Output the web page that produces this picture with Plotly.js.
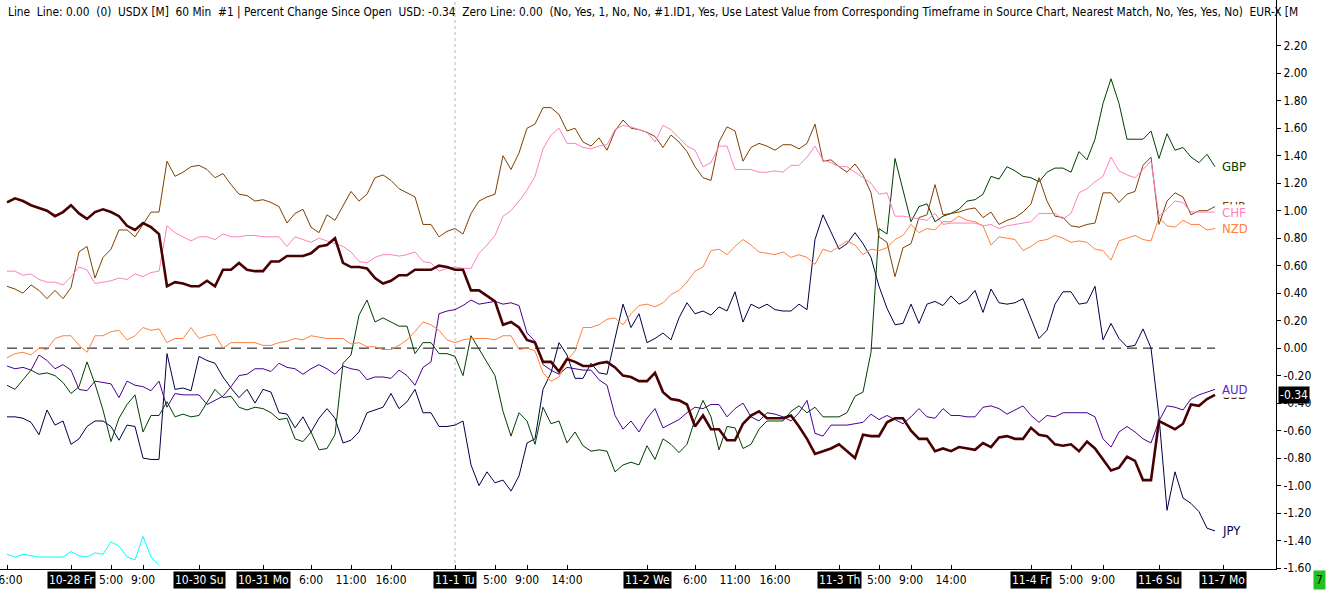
<!DOCTYPE html>
<html>
<head>
<meta charset="utf-8">
<script src="https://cdn.plot.ly/plotly-3.0.1.min.js"></script>
<style>
  html, body { margin: 0; padding: 0; background: #fff; }
  #chart { width: 1326px; height: 590px; }
</style>
</head>
<body>
<div id="chart"></div>
<script>
'use strict';

// hourly bars, 10-27 16:00 .. 11-6 23:00, percent change since open
const USD = [1.06, 1.09, 1.07, 1.04, 1.02, 1.00, 0.96, 0.99, 1.04, 0.98,
    0.94, 0.99, 1.01, 0.99, 0.96, 0.89, 0.86, 0.91, 0.88, 0.83,
    0.45, 0.48, 0.47, 0.45, 0.45, 0.49, 0.45, 0.57, 0.57, 0.62,
    0.57, 0.56, 0.56, 0.63, 0.63, 0.67, 0.67, 0.67, 0.69, 0.74,
    0.75, 0.80, 0.62, 0.59, 0.59, 0.58, 0.51, 0.47, 0.49, 0.53,
    0.53, 0.57, 0.57, 0.57, 0.60, 0.59, 0.57, 0.57, 0.42, 0.42,
    0.38, 0.34, 0.17, 0.19, 0.15, 0.06, 0.04, -0.10, -0.10, -0.17,
    -0.08, -0.10, -0.13, -0.13, -0.11, -0.10, -0.14, -0.20, -0.21, -0.24,
    -0.24, -0.18, -0.32, -0.37, -0.38, -0.41, -0.57, -0.49, -0.59, -0.59,
    -0.67, -0.67, -0.55, -0.49, -0.46, -0.51, -0.51, -0.51, -0.49, -0.57,
    -0.66, -0.77, -0.75, -0.73, -0.70, -0.75, -0.80, -0.63, -0.64, -0.64,
    -0.54, -0.51, -0.51, -0.60, -0.66, -0.66, -0.75, -0.73, -0.75, -0.72,
    -0.73, -0.74, -0.69, -0.72, -0.65, -0.64, -0.66, -0.66, -0.58, -0.63,
    -0.64, -0.70, -0.71, -0.70, -0.75, -0.68, -0.73, -0.81, -0.89, -0.87,
    -0.79, -0.82, -0.96, -0.96, -0.53, -0.56, -0.59, -0.55, -0.41, -0.42,
    -0.37, -0.34];

const EUR = [0.45, 0.43, 0.40, 0.46, 0.42, 0.36, 0.42, 0.36, 0.44, 0.70,
    0.74, 0.51, 0.66, 0.72, 0.86, 0.86, 0.81, 0.90, 0.99, 0.99,
    1.36, 1.25, 1.28, 1.32, 1.33, 1.30, 1.24, 1.27, 1.19, 1.12,
    1.11, 1.07, 1.08, 1.06, 1.03, 0.91, 0.98, 1.01, 0.88, 0.84,
    0.97, 0.93, 1.03, 1.14, 1.07, 1.12, 1.24, 1.26, 1.22, 1.16,
    1.13, 1.10, 0.90, 0.90, 0.81, 0.85, 0.87, 0.83, 0.98, 1.07,
    1.10, 1.12, 1.40, 1.30, 1.42, 1.60, 1.63, 1.75, 1.75, 1.70,
    1.58, 1.60, 1.50, 1.47, 1.53, 1.44, 1.58, 1.66, 1.60, 1.59,
    1.57, 1.54, 1.46, 1.55, 1.50, 1.43, 1.32, 1.24, 1.22, 1.50,
    1.61, 1.58, 1.36, 1.46, 1.49, 1.47, 1.44, 1.48, 1.48, 1.45,
    1.49, 1.63, 1.36, 1.37, 1.32, 1.28, 1.34, 1.26, 1.13, 0.81,
    0.77, 0.52, 0.73, 0.76, 0.95, 0.97, 1.19, 0.97, 0.98, 0.99,
    1.01, 1.02, 0.95, 0.99, 0.90, 0.93, 0.95, 0.99, 1.05, 1.24,
    1.07, 0.96, 0.95, 0.89, 0.88, 0.90, 0.91, 1.13, 1.13, 1.06,
    1.12, 1.14, 1.33, 1.39, 0.90, 1.07, 1.13, 1.10, 0.97, 1.00,
    1.00, 1.03];

const CHF = [0.56, 0.56, 0.53, 0.54, 0.50, 0.48, 0.48, 0.46, 0.52, 0.59,
    0.57, 0.47, 0.48, 0.49, 0.51, 0.50, 0.54, 0.52, 0.55, 0.56,
    0.89, 0.84, 0.81, 0.78, 0.81, 0.81, 0.79, 0.83, 0.81, 0.81,
    0.82, 0.82, 0.81, 0.81, 0.81, 0.74, 0.81, 0.79, 0.77, 0.80,
    0.78, 0.76, 0.74, 0.70, 0.63, 0.62, 0.66, 0.68, 0.68, 0.67,
    0.68, 0.70, 0.63, 0.62, 0.56, 0.58, 0.59, 0.58, 0.58, 0.69,
    0.75, 0.82, 0.96, 1.00, 1.07, 1.15, 1.25, 1.45, 1.55, 1.60,
    1.49, 1.49, 1.46, 1.45, 1.47, 1.48, 1.59, 1.62, 1.61, 1.59,
    1.57, 1.50, 1.62, 1.59, 1.53, 1.47, 1.44, 1.32, 1.35, 1.47,
    1.47, 1.30, 1.30, 1.30, 1.28, 1.28, 1.29, 1.28, 1.33, 1.33,
    1.39, 1.47, 1.37, 1.35, 1.32, 1.32, 1.28, 1.24, 1.20, 1.12,
    1.13, 0.96, 0.96, 0.95, 0.94, 0.93, 0.98, 0.90, 0.91, 0.91,
    0.91, 0.91, 0.89, 0.90, 0.87, 0.89, 0.90, 0.91, 0.92, 0.98,
    0.98, 0.98, 0.94, 0.98, 1.13, 1.16, 1.21, 1.25, 1.39, 1.29,
    1.26, 1.24, 1.30, 1.36, 0.96, 1.01, 1.07, 1.06, 0.99, 0.99,
    0.99, 0.99];

const NZD = [-0.07, -0.04, -0.03, -0.05, 0.00, -0.01, 0.07, 0.09, 0.09, 0.02,
    -0.03, 0.09, 0.09, 0.12, 0.13, 0.06, 0.09, 0.15, 0.13, 0.14,
    0.04, 0.07, 0.07, 0.15, 0.07, 0.09, 0.10, 0.00, 0.04, 0.04,
    0.04, 0.04, 0.02, 0.02, 0.04, 0.05, 0.07, 0.06, 0.09, 0.08,
    0.07, 0.07, 0.07, 0.03, 0.04, 0.01, 0.01, -0.01, -0.01, 0.02,
    0.06, 0.12, 0.19, 0.17, 0.13, 0.06, 0.04, 0.06, 0.07, 0.07,
    0.07, 0.06, 0.09, 0.09, -0.01, 0.00, -0.02, -0.18, -0.24, -0.21,
    -0.09, -0.02, 0.15, 0.15, 0.17, 0.21, 0.22, 0.17, 0.25, 0.31,
    0.32, 0.30, 0.33, 0.39, 0.42, 0.48, 0.56, 0.59, 0.71, 0.72,
    0.68, 0.74, 0.79, 0.75, 0.70, 0.69, 0.68, 0.70, 0.66, 0.68,
    0.66, 0.61, 0.72, 0.70, 0.74, 0.78, 0.75, 0.68, 0.72, 0.71,
    0.73, 0.79, 0.82, 0.90, 0.84, 0.87, 0.86, 0.92, 0.92, 0.96,
    0.93, 0.92, 0.89, 0.75, 0.81, 0.80, 0.79, 0.71, 0.74, 0.78,
    0.79, 0.82, 0.80, 0.77, 0.78, 0.77, 0.72, 0.71, 0.64, 0.78,
    0.80, 0.82, 0.79, 0.78, 0.95, 0.89, 0.88, 0.93, 0.90, 0.90,
    0.86, 0.87];

const GBP = [-0.27, -0.30, -0.23, -0.16, -0.19, -0.18, -0.20, -0.25, -0.33, -0.28,
    -0.10, -0.26, -0.45, -0.68, -0.51, -0.41, -0.34, -0.61, -0.49, -0.49,
    -0.39, -0.50, -0.48, -0.50, -0.49, -0.40, -0.30, -0.36, -0.35, -0.43,
    -0.45, -0.43, -0.44, -0.47, -0.52, -0.51, -0.66, -0.68, -0.61, -0.74,
    -0.73, -0.63, -0.11, -0.05, 0.24, 0.35, 0.19, 0.22, 0.19, 0.16,
    0.16, -0.04, 0.04, 0.04, -0.04, -0.04, -0.06, -0.20, 0.09, -0.01,
    -0.11, -0.20, -0.46, -0.64, -0.47, -0.53, -0.70, -0.43, -0.55, -0.53,
    -0.69, -0.61, -0.71, -0.75, -0.74, -0.75, -0.90, -0.85, -0.83, -0.85,
    -0.71, -0.81, -0.66, -0.70, -0.76, -0.70, -0.52, -0.38, -0.50, -0.74,
    -0.57, -0.58, -0.73, -0.70, -0.59, -0.53, -0.53, -0.53, -0.46, -0.42,
    -0.47, -0.43, -0.50, -0.50, -0.50, -0.47, -0.35, -0.32, -0.03, 0.87,
    0.83, 1.38, 1.15, 0.92, 1.03, 1.05, 0.92, 0.96, 0.98, 1.01,
    1.07, 1.08, 1.12, 1.25, 1.23, 1.32, 1.29, 1.25, 1.24, 1.21,
    1.28, 1.31, 1.31, 1.28, 1.43, 1.37, 1.52, 1.78, 1.96, 1.78,
    1.52, 1.52, 1.52, 1.58, 1.38, 1.56, 1.44, 1.46, 1.39, 1.35,
    1.41, 1.32];

const AUD = [-0.13, -0.15, -0.14, -0.16, -0.05, -0.09, -0.15, -0.12, -0.16, -0.30,
    -0.31, -0.24, -0.25, -0.26, -0.36, -0.24, -0.27, -0.28, -0.31, -0.24,
    -0.43, -0.33, -0.34, -0.34, -0.34, -0.41, -0.38, -0.35, -0.28, -0.20,
    -0.19, -0.15, -0.15, -0.17, -0.11, -0.14, -0.15, -0.19, -0.15, -0.12,
    -0.15, -0.19, -0.13, -0.15, -0.16, -0.23, -0.21, -0.21, -0.22, -0.16,
    -0.20, -0.27, -0.14, -0.10, 0.25, 0.27, 0.28, 0.31, 0.35, 0.32,
    0.33, 0.34, 0.32, 0.33, 0.31, 0.11, 0.05, -0.12, -0.16, -0.19,
    -0.14, -0.15, -0.16, -0.16, -0.23, -0.27, -0.49, -0.59, -0.53, -0.61,
    -0.51, -0.44, -0.58, -0.55, -0.52, -0.47, -0.43, -0.44, -0.41, -0.41,
    -0.50, -0.44, -0.40, -0.50, -0.53, -0.47, -0.48, -0.50, -0.53, -0.47,
    -0.38, -0.62, -0.64, -0.56, -0.56, -0.56, -0.55, -0.54, -0.48, -0.52,
    -0.49, -0.52, -0.55, -0.50, -0.44, -0.50, -0.51, -0.44, -0.49, -0.49,
    -0.50, -0.50, -0.43, -0.42, -0.44, -0.48, -0.45, -0.42, -0.49, -0.54,
    -0.49, -0.50, -0.47, -0.47, -0.47, -0.47, -0.50, -0.66, -0.72, -0.61,
    -0.57, -0.61, -0.66, -0.69, -0.53, -0.42, -0.43, -0.45, -0.37, -0.34,
    -0.32, -0.30];

const JPY = [-0.50, -0.50, -0.51, -0.54, -0.63, -0.45, -0.56, -0.53, -0.70, -0.66,
    -0.57, -0.53, -0.53, -0.57, -0.67, -0.56, -0.57, -0.80, -0.81, -0.81,
    -0.04, -0.30, -0.29, -0.31, -0.06, -0.09, -0.11, -0.21, -0.29, -0.36,
    -0.30, -0.40, -0.30, -0.32, -0.47, -0.48, -0.58, -0.50, -0.61, -0.51,
    -0.44, -0.51, -0.69, -0.67, -0.61, -0.47, -0.45, -0.43, -0.33, -0.44,
    -0.39, -0.30, -0.47, -0.47, -0.57, -0.57, -0.56, -0.53, -0.85, -1.00,
    -0.90, -0.98, -0.96, -1.04, -0.93, -0.69, -0.66, -0.30, -0.18, 0.04,
    -0.05, -0.22, -0.22, -0.11, -0.18, -0.19, 0.07, 0.32, 0.15, 0.25,
    0.04, 0.07, 0.11, 0.06, 0.22, 0.33, 0.25, 0.27, 0.24, 0.30,
    0.27, 0.41, 0.19, 0.32, 0.29, 0.32, 0.28, 0.27, 0.27, 0.32,
    0.28, 0.79, 0.97, 0.84, 0.72, 0.76, 0.84, 0.76, 0.66, 0.45,
    0.29, 0.17, 0.18, 0.32, 0.18, 0.32, 0.34, 0.31, 0.38, 0.32,
    0.35, 0.42, 0.26, 0.43, 0.33, 0.32, 0.33, 0.36, 0.22, 0.07,
    0.13, 0.32, 0.41, 0.41, 0.32, 0.33, 0.45, 0.06, 0.18, 0.07,
    0.01, 0.02, 0.14, 0.00, -0.50, -1.18, -0.90, -1.09, -1.13, -1.19,
    -1.31, -1.33];

// short series that stops early (no label on the chart)
const CYAN = [-1.50, -1.52, -1.50, -1.51, -1.52, -1.52, -1.52, -1.52, -1.48, -1.51,
    -1.52, -1.49, -1.50, -1.41, -1.44, -1.52, -1.54, -1.37, -1.52, -1.58];

const ZERO_LEVEL = 0;

// time axis
const tickBars = [0, 8, 13, 17, 24, 32, 38, 43, 48, 56, 61, 65, 70,
    80, 86, 91, 96, 104, 109, 113, 118, 128, 133, 137, 144, 152];
const tickLabels = ['16:00', '10-28 Fr', '5:00', '9:00', '10-30 Su', '10-31 Mo',
    '6:00', '11:00', '16:00', '11-1 Tu', '5:00', '9:00', '14:00',
    '11-2 We', '6:00', '11:00', '16:00', '11-3 Th', '5:00', '9:00', '14:00',
    '11-4 Fr', '5:00', '9:00', '11-6 Su', '11-7 Mo'];

const yTicks = [2.2, 2.0, 1.8, 1.6, 1.4, 1.2, 1.0, 0.8, 0.6, 0.4, 0.2, 0.0,
    -0.2, -0.4, -0.6, -0.8, -1.0, -1.2, -1.4, -1.6];

const headerText = 'Line  Line: 0.00  (0)  USDX [M]  60 Min  #1 | Percent Change Since Open  ' +
    'USD: -0.34  Zero Line: 0.00  (No, Yes, 1, No, No, #1.ID1, Yes, Use Latest Value from ' +
    'Corresponding Timeframe in Source Chart, Nearest Match, No, Yes, Yes, No)  EUR-X [M';

const FONT = '"Liberation Sans Narrow", "Arial Narrow", "DejaVu Sans Condensed", sans-serif';

const series = [
    {name: '', values: CYAN, color: '#00ffff', width: 1},
    {name: 'JPY', values: JPY, color: '#000048', width: 1},
    {name: 'AUD', values: AUD, color: '#4a0090', width: 1, labelColor: '#5a28c8'},
    {name: 'GBP', values: GBP, color: '#004000', width: 1},
    {name: 'NZD', values: NZD, color: '#ff8040', width: 1},
    {name: 'EUR', values: EUR, color: '#804000', width: 1},
    {name: 'CHF', values: CHF, color: '#ff80c0', width: 1},
    {name: 'USD', values: USD, color: '#480000', width: 2.6}
];

const bars = USD.map((v, i) => i);

const traces = [{
    type: 'scatter', mode: 'lines',
    x: bars, y: bars.map(() => ZERO_LEVEL),
    line: {color: '#000000', width: 1, dash: '10px,6px'},
    hoverinfo: 'skip'
}];
series.forEach(s => {
    traces.push({
        type: 'scatter', mode: 'lines', name: s.name,
        x: s.values.map((v, i) => bars[i]), y: s.values,
        line: {color: s.color, width: s.width},
        hoverinfo: 'skip'
    });
});

const annotations = [];

// date labels drawn as black boxes under the axis
tickLabels.forEach((t, i) => {
    if (t.indexOf('-') > 0) {
        annotations.push({
            x: tickBars[i], xref: 'x', y: 0, yref: 'paper',
            yanchor: 'top', yshift: -2, showarrow: false,
            text: t, bgcolor: '#000000', borderpad: 1,
            font: {family: FONT, size: 12, color: '#ffffff'}
        });
    }
});

// series name at the last value; later ones cover earlier ones
['GBP', 'NZD', 'EUR', 'CHF', 'JPY', 'USD', 'AUD'].forEach(name => {
    const s = series.find(d => d.name === name);
    const last = s.values.length - 1;
    annotations.push({
        x: bars[last], xref: 'x', y: s.values[last], yref: 'y',
        xanchor: 'left', xshift: 6, showarrow: false,
        text: name, bgcolor: '#ffffff', borderpad: 0,
        font: {family: FONT, size: 13, color: s.labelColor || s.color}
    });
});

// current USD value on the price axis
annotations.push({
    x: 1, xref: 'paper', y: USD[USD.length - 1], yref: 'y',
    xanchor: 'left', xshift: 2, showarrow: false,
    text: USD[USD.length - 1].toFixed(2), bgcolor: '#000000', borderpad: 1,
    font: {family: FONT, size: 12, color: '#ffffff'}
});

annotations.push({
    x: 0, xref: 'paper', y: 1, yref: 'paper',
    xanchor: 'left', yanchor: 'top', xshift: 6, yshift: -3, showarrow: false,
    text: headerText.replace(/ {2}/g, ' &nbsp;'),
    font: {family: FONT, size: 11.8, color: '#000000'}
});

annotations.push({
    x: 1326 / 1276, xref: 'paper', y: -21 / 569, yref: 'paper',
    xanchor: 'right', yanchor: 'bottom', showarrow: false,
    text: '7', bgcolor: '#22c022', borderpad: 2,
    font: {family: FONT, size: 12, color: '#000000'}
});

const layout = {
    width: 1326, height: 590,
    margin: {l: 0, r: 50, t: 0, b: 21, pad: 0},
    paper_bgcolor: '#ffffff', plot_bgcolor: '#ffffff',
    showlegend: false,
    xaxis: {
        range: [-0.875, 158.625],
        showgrid: false, zeroline: false,
        showline: true, linecolor: '#000000', linewidth: 1,
        ticks: 'inside', ticklen: 4, tickcolor: '#000000',
        ticklabeloverflow: 'allow',
        tickvals: tickBars,
        ticktext: tickLabels.map(t => (t.indexOf('-') > 0 ? '' : t)),
        tickfont: {family: FONT, size: 12, color: '#000000'}
    },
    yaxis: {
        side: 'right',
        range: [-1.607, 2.533],
        showgrid: false, zeroline: false,
        showline: true, mirror: true, linecolor: '#000000', linewidth: 1,
        ticks: 'outside', ticklen: 4, tickcolor: '#000000',
        tickvals: yTicks,
        ticktext: yTicks.map(v => v.toFixed(2)),
        tickfont: {family: FONT, size: 12, color: '#000000'}
    },
    shapes: [{
        type: 'line', xref: 'x', yref: 'paper',
        x0: tickBars[tickLabels.indexOf('11-1 Tu')], x1: tickBars[tickLabels.indexOf('11-1 Tu')],
        y0: 0, y1: 1,
        line: {color: '#b8b8b8', width: 1, dash: 'dot'},
        layer: 'below'
    }],
    annotations: annotations
};

Plotly.newPlot('chart', traces, layout, {staticPlot: true, displayModeBar: false});
</script>
</body>
</html>
